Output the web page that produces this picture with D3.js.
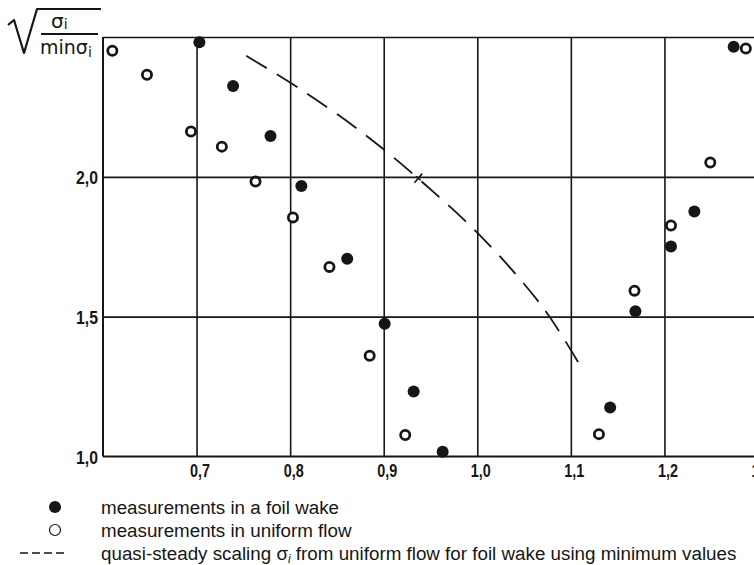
<!DOCTYPE html>
<html>
<head>
<meta charset="utf-8">
<script src="https://cdn.jsdelivr.net/npm/d3@7/dist/d3.min.js"></script>
<style>
  html, body { margin: 0; padding: 0; background: #fff; }
  svg { display: block; }
</style>
</head>
<body>
<svg id="chart" width="754" height="565"></svg>
<script>
// ---- data ----
const xTicks = [0.7, 0.8, 0.9, 1.0, 1.1, 1.2, 1.3];
const yTicks = [1.0, 1.5, 2.0];
const xGrid = [0.7, 0.8, 0.9, 1.0, 1.1, 1.2];
const yGrid = [1.5, 2.0, 2.5];

// measurements in a foil wake (filled)
const foilX = [0.703, 0.739, 0.779, 0.812, 0.861, 0.901, 0.932, 0.963, 1.142, 1.169, 1.207, 1.232, 1.274];
const foilY = [2.481, 2.325, 2.146, 1.967, 1.707, 1.475, 1.232, 1.017, 1.175, 1.519, 1.751, 1.876, 2.465];

// measurements in uniform flow (open)
const uniX = [0.610, 0.647, 0.694, 0.727, 0.763, 0.803, 0.842, 0.885, 0.923, 1.130, 1.168, 1.207, 1.249, 1.287];
const uniY = [2.451, 2.365, 2.162, 2.108, 1.983, 1.855, 1.678, 1.360, 1.077, 1.080, 1.593, 1.826, 2.051, 2.459];

// quasi-steady scaling (dashed)
const qsX = [0.753, 0.812, 0.878, 0.942, 1.008, 1.071, 1.113];
const qsY = [2.433, 2.311, 2.156, 1.979, 1.773, 1.529, 1.308];
// small cross mark on the dashed curve
const markX = [0.937];
const markY = [1.995];

const legendLabels = [
  "measurements in a foil wake",
  "measurements in uniform flow",
  "quasi-steady scaling σ",
  " from uniform flow for foil wake using minimum values",
];

// ---- drawing ----
const svg = d3.select("#chart");
const x = d3.scaleLinear().domain([0.6, 1.3]).range([103, 758]);
const y = d3.scaleLinear().domain([1.0, 2.5]).range([456.5, 37]);
const ink = "#161616";
const fmt = d => d3.format(".1f")(d).replace(".", ",");

// grid lines (vertical)
svg.append("g")
  .attr("transform", `translate(0,${y(1.0)})`)
  .call(d3.axisBottom(x).tickValues(xGrid).tickSize(-(y(1.0) - y(2.5))).tickFormat(""))
  .call(g => g.select(".domain").remove())
  .call(g => g.selectAll("line").attr("stroke", ink).attr("stroke-width", 1.6));

// grid lines (horizontal)
svg.append("g")
  .attr("transform", `translate(${x(0.6)},0)`)
  .call(d3.axisLeft(y).tickValues(yGrid).tickSize(-(x(1.3) - x(0.6))).tickFormat(""))
  .call(g => g.select(".domain").remove())
  .call(g => g.selectAll("line").attr("stroke", ink).attr("stroke-width", 1.6));

// frame: left and bottom
svg.append("line").attr("x1", x(0.6)).attr("x2", x(0.6)).attr("y1", y(2.5)).attr("y2", y(1.0))
  .attr("stroke", ink).attr("stroke-width", 2);
svg.append("line").attr("x1", x(0.6)).attr("x2", x(1.3)).attr("y1", y(1.0)).attr("y2", y(1.0))
  .attr("stroke", ink).attr("stroke-width", 2);

// tick labels (bold, condensed look)
const tickFont = g => g.selectAll("text")
  .attr("font-family", "'Liberation Sans', Arial, sans-serif")
  .attr("font-weight", "bold").attr("font-size", 18).attr("fill", ink)
  .attr("lengthAdjust", "spacingAndGlyphs");

svg.append("g")
  .attr("transform", `translate(3,${y(1.0) + 8})`)
  .call(d3.axisBottom(x).tickValues(xTicks).tickSize(0).tickPadding(0).tickFormat(fmt))
  .call(g => g.select(".domain").remove())
  .call(tickFont)
  .call(g => g.selectAll("text").attr("textLength", 20));

svg.append("g")
  .attr("transform", `translate(98,1)`)
  .call(d3.axisLeft(y).tickValues(yTicks).tickSize(0).tickPadding(0).tickFormat(fmt))
  .call(g => g.select(".domain").remove())
  .call(tickFont)
  .call(g => g.selectAll("text").attr("textLength", 22));

// dashed quasi-steady line
const qs = qsX.map((d, i) => [d, qsY[i]]);
svg.append("path")
  .datum(qs)
  .attr("d", d3.line().x(d => x(d[0])).y(d => y(d[1])).curve(d3.curveCatmullRom))
  .attr("fill", "none").attr("stroke", ink).attr("stroke-width", 1.8)
  .attr("stroke-dasharray", "24,12");

// small cross mark on the curve
svg.append("g").selectAll("path")
  .data(markX.map((d, i) => [d, markY[i]]))
  .join("path")
  .attr("transform", d => `translate(${x(d[0])},${y(d[1])}) rotate(40)`)
  .attr("d", "M0,-6V6M-3,0H3")
  .attr("stroke", ink).attr("stroke-width", 1.6).attr("fill", "none");

// open circles
svg.append("g").selectAll("circle")
  .data(uniX.map((d, i) => [d, uniY[i]]))
  .join("circle")
  .attr("cx", d => x(d[0])).attr("cy", d => y(d[1])).attr("r", 4.6)
  .attr("fill", "#fff").attr("stroke", ink).attr("stroke-width", 2.8);

// filled dots
svg.append("g").selectAll("circle")
  .data(foilX.map((d, i) => [d, foilY[i]]))
  .join("circle")
  .attr("cx", d => x(d[0])).attr("cy", d => y(d[1])).attr("r", 6)
  .attr("fill", ink);

// y-axis title: sqrt(σi / min σi)
const t = svg.append("g").attr("fill", ink).attr("stroke", "none");
svg.append("path")
  .attr("d", "M8,25 L14,20 L24,53 L37,9 L101,9")
  .attr("fill", "none").attr("stroke", ink).attr("stroke-width", 2.2).attr("stroke-linejoin", "round");
svg.append("line").attr("x1", 41).attr("x2", 98).attr("y1", 34).attr("y2", 34)
  .attr("stroke", ink).attr("stroke-width", 2.2);
const num = t.append("text").attr("x", 51).attr("y", 28)
  .attr("font-family", "'DejaVu Sans', sans-serif").attr("font-size", 20);
num.append("tspan").text("σ");
num.append("tspan").attr("font-size", 14).attr("dy", 1).text("i");
const den = t.append("text").attr("x", 40).attr("y", 54)
  .attr("font-family", "'DejaVu Sans', sans-serif").attr("font-size", 19);
den.append("tspan").text("minσ");
den.append("tspan").attr("font-size", 14).attr("dy", 3).text("i");

// legend
const lg = svg.append("g").attr("font-family", "'Liberation Sans', Arial, sans-serif")
  .attr("font-size", 18.8).attr("fill", ink);
const ly = [507, 530, 553];
lg.append("circle").attr("cx", 55).attr("cy", ly[0]).attr("r", 6).attr("fill", ink);
lg.append("circle").attr("cx", 55).attr("cy", ly[1]).attr("r", 5.5).attr("fill", "#fff")
  .attr("stroke", ink).attr("stroke-width", 1.2);
lg.append("line").attr("x1", 20).attr("x2", 66).attr("y1", ly[2]).attr("y2", ly[2])
  .attr("stroke", ink).attr("stroke-width", 1.5).attr("stroke-dasharray", "8,4");
lg.append("text").attr("x", 101).attr("y", ly[0] + 7).text(legendLabels[0]);
lg.append("text").attr("x", 101).attr("y", ly[1] + 7).text(legendLabels[1]);
const l3 = lg.append("text").attr("x", 101).attr("y", ly[2] + 7);
l3.append("tspan").text(legendLabels[2]);
l3.append("tspan").attr("font-size", 12).attr("dy", 3).attr("font-style", "italic").text("i");
l3.append("tspan").attr("dy", -3).text(legendLabels[3]);
</script>
</body>
</html>
